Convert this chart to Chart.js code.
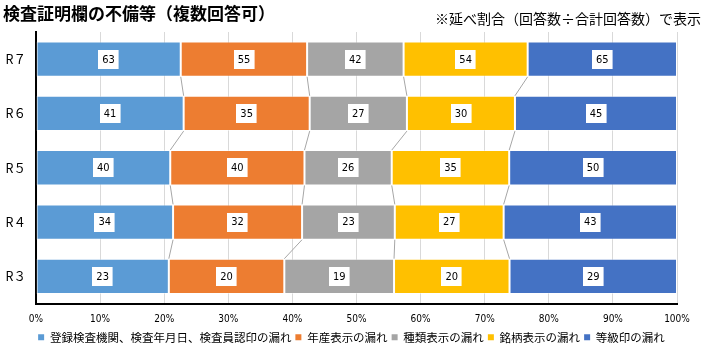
<!DOCTYPE html>
<html>
<head>
<meta charset="utf-8">
<script src="https://cdn.jsdelivr.net/npm/chart.js@4"></script>
<style>
html,body{margin:0;padding:0;background:#fff;}
#wrap{width:706px;height:357px;position:relative;}
</style>
</head>
<body>
<div id="wrap"><canvas id="c" width="706" height="357"></canvas></div>
<script>
const categories = ['R７', 'R６', 'R５', 'R４', 'R３'];
const seriesNames = ['登録検査機関、検査年月日、検査員認印の漏れ', '年産表示の漏れ', '種類表示の漏れ', '銘柄表示の漏れ', '等級印の漏れ'];
const seriesColors = ['#5B9BD5', '#ED7D31', '#A5A5A5', '#FFC000', '#4472C4'];
const registration = [63, 41, 40, 34, 23];
const harvestYear = [55, 35, 40, 32, 20];
const varietyType = [42, 27, 26, 23, 19];
const brand = [54, 30, 35, 27, 20];
const grade = [65, 45, 50, 43, 29];
const xTicks = [0, 10, 20, 30, 40, 50, 60, 70, 80, 90, 100];
const titleText = '検査証明欄の不備等（複数回答可）';
const noteText = '※延べ割合（回答数÷合計回答数）で表示';

const counts = [registration, harvestYear, varietyType, brand, grade];
const totals = categories.map((_, i) => counts.reduce((s, arr) => s + arr[i], 0));

const CJK = '"Noto Sans CJK JP", "Noto Sans", sans-serif';

const datasets = counts.map((arr, d) => ({
  label: seriesNames[d],
  data: arr.map((v, i) => v / totals[i] * 100),
  raw: arr,
  backgroundColor: seriesColors[d],
  borderColor: 'rgba(255,255,255,0.45)',
  borderWidth: 1,
  borderSkipped: false,
  barPercentage: 0.65,
  categoryPercentage: 1.0
}));

const seriesLines = {
  id: 'seriesLines',
  beforeDatasetsDraw(chart) {
    const ctx = chart.ctx;
    ctx.save();
    ctx.strokeStyle = '#A6A6A6';
    ctx.lineWidth = 1;
    for (let d = 0; d < chart.data.datasets.length - 1; d++) {
      const meta = chart.getDatasetMeta(d);
      for (let i = 0; i < meta.data.length - 1; i++) {
        const a = meta.data[i].getProps(['x', 'y', 'height'], true);
        const b = meta.data[i + 1].getProps(['x', 'y', 'height'], true);
        ctx.beginPath();
        ctx.moveTo(a.x, a.y + a.height / 2);
        ctx.lineTo(b.x, b.y - b.height / 2);
        ctx.stroke();
      }
    }
    ctx.restore();
  }
};

const valueLabels = {
  id: 'valueLabels',
  afterDatasetsDraw(chart) {
    const ctx = chart.ctx;
    ctx.save();
    ctx.font = '11px "DejaVu Sans Condensed", "DejaVu Sans", sans-serif';
    ctx.textAlign = 'center';
    ctx.textBaseline = 'middle';
    chart.data.datasets.forEach((ds, d) => {
      const meta = chart.getDatasetMeta(d);
      meta.data.forEach((el, i) => {
        const p = el.getProps(['x', 'y', 'base'], true);
        const cx = (p.x + p.base) / 2;
        const cy = p.y;
        const txt = String(ds.raw[i]);
        const w = Math.max(20, ctx.measureText(txt).width + 8);
        const h = 19;
        ctx.fillStyle = '#FFFFFF';
        ctx.fillRect(Math.round(cx - w / 2), Math.round(cy - h / 2), w, h);
        ctx.fillStyle = '#000000';
        ctx.fillText(txt, cx, cy + 0.5);
      });
    });
    ctx.restore();
  }
};

const headerText = {
  id: 'headerText',
  afterDraw(chart) {
    const ctx = chart.ctx;
    ctx.save();
    ctx.fillStyle = '#000';
    ctx.textBaseline = 'middle';
    ctx.textAlign = 'left';
    ctx.font = 'bold 17px ' + CJK;
    ctx.fillText(titleText, 3, 14);
    ctx.textAlign = 'right';
    ctx.font = '14px ' + CJK;
    ctx.fillText(noteText, 701, 19);
    ctx.restore();
  }
};

const legendShift = {
  id: 'legendShift',
  afterLayout(chart) {
    if (chart.legend) {
      chart.legend.left += 13;
      chart.legend.right += 13;
    }
  }
};

new Chart(document.getElementById('c'), {
  type: 'bar',
  data: { labels: categories, datasets },
  options: {
    indexAxis: 'y',
    responsive: false,
    animation: false,
    devicePixelRatio: 1,
    layout: { padding: { top: 32, left: 0, right: 29, bottom: 4 } },
    scales: {
      x: {
        stacked: true,
        min: 0,
        max: 100,
        afterBuildTicks(scale) { scale.ticks = xTicks.map(v => ({ value: v })); },
        afterFit(scale) { scale.height = 24; },
        ticks: {
          callback: v => v + '%',
          font: { family: '"DejaVu Sans Condensed", "DejaVu Sans", sans-serif', size: 10 },
          color: '#000',
          padding: 10,
          maxRotation: 0,
          autoSkip: false
        },
        grid: { color: '#D9D9D9', lineWidth: 1, drawTicks: false },
        border: { display: true, color: '#000', width: 2 }
      },
      y: {
        stacked: true,
        afterFit(scale) { scale.width = 36; },
        ticks: {
          font: { family: CJK, size: 12.5 },
          color: '#000',
          padding: 10
        },
        grid: { display: false, drawTicks: false },
        border: { display: true, color: '#000', width: 2 }
      }
    },
    plugins: {
      legend: {
        position: 'bottom',
        labels: {
          boxWidth: 6,
          boxHeight: 6,
          padding: 4,
          color: '#000',
          font: { family: CJK, size: 11.5 },
          generateLabels(chart) {
            return chart.data.datasets.map((ds, i) => ({
              text: ds.label,
              fillStyle: ds.backgroundColor,
              strokeStyle: ds.backgroundColor,
              lineWidth: 0,
              hidden: false,
              datasetIndex: i,
              fontColor: '#000'
            }));
          }
        }
      },
      title: { display: false },
      tooltip: { enabled: false }
    }
  },
  plugins: [seriesLines, valueLabels, headerText, legendShift]
});
</script>
</body>
</html>
